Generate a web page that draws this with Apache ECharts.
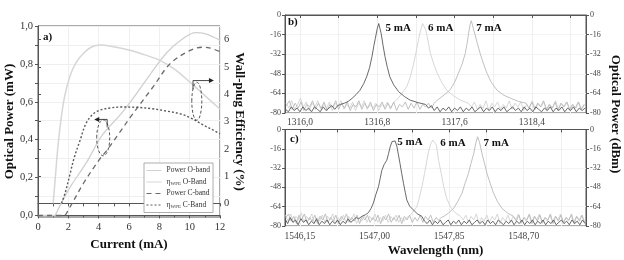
<!DOCTYPE html>
<html>
<head>
<meta charset="utf-8">
<script src="https://cdn.jsdelivr.net/npm/echarts@6.0.0/dist/echarts.min.js"></script>
<style>
html, body { margin: 0; padding: 0; background: #fff; }
#main { width: 624px; height: 260px; }
</style>
</head>
<body>
<div id="main"></div>
<script>
// panel a) current (mA) vs power (mW) / wall-plug efficiency (%)
var powerO = [[0,0],[1.1,0],[1.2,0.012],[1.7,0.09],[2.2,0.16],[3.2,0.28],[4.2,0.42],[5.4,0.53],[6.1,0.6],[7.4,0.745],[8.5,0.86],[9.5,0.93],[10.4,0.965],[11,0.96],[12,0.925]];
var etaO = [[1.0,0],[1.15,1.0],[1.3,2.0],[1.5,3.0],[1.75,3.9],[2.1,4.65],[2.5,5.15],[3.0,5.5],[3.5,5.72],[4.1,5.8],[4.8,5.76],[6,5.62],[7,5.45],[8,5.25],[9,4.92],[10,4.45],[11,3.95],[12,3.45]];
var powerC = [[0,0],[1.7,0],[2.0,0.03],[3.0,0.17],[4.0,0.29],[4.5,0.34],[5.4,0.44],[6.1,0.52],[7.6,0.68],[8.7,0.8],[10.0,0.87],[10.9,0.888],[11.3,0.885],[12,0.865]];
var etaC = [[1.55,0],[1.8,0.4],[2.1,1.05],[2.4,1.7],[2.8,2.35],[3.1,2.85],[3.5,3.2],[4.0,3.4],[4.8,3.5],[5.5,3.53],[6.5,3.52],[7.5,3.47],[8.5,3.38],[9.4,3.28],[10.1,3.12],[10.8,2.9],[11.5,2.7],[12,2.55]];

// panel b) O-band spectra, wavelength (nm) / dBm
var b5 = [[1315.85,-77],[1315.88,-79],[1315.91,-75],[1315.94,-78],[1315.97,-76],[1316.00,-79],[1316.03,-75],[1316.06,-78],[1316.09,-76],[1316.12,-79],[1316.15,-75],[1316.18,-77],[1316.21,-79],[1316.24,-75],[1316.27,-78],[1316.30,-76],[1316.33,-74],[1316.36,-77],[1316.39,-74],[1316.42,-73],
  [1316.46,-72],[1316.50,-70.5],[1316.54,-68],[1316.58,-65],[1316.62,-61.5],[1316.66,-56],[1316.69,-50.5],[1316.72,-43],[1316.745,-34],[1316.765,-25],[1316.78,-19],[1316.80,-11],[1316.815,-7],[1316.825,-8],[1316.84,-15],[1316.86,-25],[1316.88,-34],[1316.905,-43],[1316.93,-50.5],[1316.97,-57],[1317.02,-62.5],[1317.08,-66.5],[1317.14,-69.5],[1317.22,-71.5],[1317.30,-73],
  [1317.33,-76],[1317.36,-74],[1317.39,-78],[1317.42,-75],[1317.45,-79],[1317.48,-76],[1317.51,-78],[1317.54,-75],[1317.57,-79],[1317.60,-76],[1317.63,-78],[1317.66,-75],[1317.69,-79],[1317.72,-76],[1317.75,-78],[1317.78,-75],[1317.81,-79],[1317.84,-77],[1317.87,-75],[1317.90,-79],[1317.93,-76],[1317.96,-78],[1317.99,-75],[1318.02,-79],[1318.05,-76],[1318.08,-78],[1318.11,-75],[1318.14,-79],[1318.17,-77],[1318.20,-75],[1318.23,-78],[1318.26,-76],[1318.29,-79],[1318.32,-75],[1318.35,-78],[1318.38,-76],[1318.41,-79],[1318.44,-75],[1318.47,-77],[1318.50,-79],[1318.53,-76],[1318.56,-78],[1318.59,-75],[1318.62,-79],[1318.65,-76],[1318.68,-78],[1318.71,-75],[1318.74,-79],[1318.77,-76],[1318.80,-78],[1318.83,-75],[1318.86,-79],[1318.89,-76],[1318.92,-78],[1318.95,-76]];
var b6 = [[1315.855,-72],[1315.885,-76],[1315.915,-70],[1315.945,-77],[1315.975,-73],[1316.005,-68],[1316.035,-75],[1316.065,-71],[1316.095,-78],[1316.125,-72],[1316.155,-75],[1316.185,-70],[1316.215,-77],[1316.245,-73],[1316.275,-76],[1316.305,-71],[1316.335,-78],[1316.365,-72],[1316.395,-75],[1316.425,-70],[1316.455,-77],[1316.485,-73],[1316.515,-76],[1316.545,-71],[1316.575,-78],[1316.605,-72],[1316.635,-75],[1316.665,-70],[1316.695,-77],[1316.725,-73],[1316.755,-76],[1316.785,-72],[1316.815,-78],[1316.845,-73],[1316.875,-75],[1316.905,-71],[1316.935,-77],[1316.965,-72],
  [1317.00,-69.5],[1317.05,-64.5],[1317.105,-58.5],[1317.14,-51],[1317.17,-42],[1317.20,-31],[1317.226,-20.5],[1317.25,-12],[1317.27,-7],[1317.285,-7.5],[1317.30,-12],[1317.31,-15],[1317.33,-23],[1317.35,-31.5],[1317.385,-40],[1317.42,-47.5],[1317.47,-55.5],[1317.52,-61.5],[1317.59,-66],[1317.66,-69.5],[1317.74,-72],
  [1317.775,-75],[1317.805,-71],[1317.835,-77],[1317.865,-73],[1317.895,-76],[1317.925,-70],[1317.955,-78],[1317.985,-72],[1318.015,-75],[1318.045,-71],[1318.075,-77],[1318.105,-73],[1318.135,-76],[1318.165,-70],[1318.195,-77],[1318.225,-72],[1318.255,-75],[1318.285,-71],[1318.315,-78],[1318.345,-73],[1318.375,-76],[1318.405,-70],[1318.435,-77],[1318.465,-72],[1318.495,-75],[1318.525,-71],[1318.555,-78],[1318.585,-73],[1318.615,-76],[1318.645,-70],[1318.675,-77],[1318.705,-72],[1318.735,-75],[1318.765,-71],[1318.795,-78],[1318.825,-73],[1318.855,-76],[1318.885,-71],[1318.915,-77],[1318.945,-73]];
var b7 = [[1315.86,-74],[1315.89,-70],[1315.92,-77],[1315.95,-72],[1315.98,-76],[1316.01,-71],[1316.04,-78],[1316.07,-73],[1316.10,-75],[1316.13,-70],[1316.16,-77],[1316.19,-72],[1316.22,-76],[1316.25,-71],[1316.28,-78],[1316.31,-73],[1316.34,-75],[1316.37,-70],[1316.40,-77],[1316.43,-72],[1316.46,-76],[1316.49,-71],[1316.52,-78],[1316.55,-73],[1316.58,-75],[1316.61,-70],[1316.64,-77],[1316.67,-72],[1316.70,-76],[1316.73,-71],[1316.76,-78],[1316.79,-73],[1316.82,-75],[1316.85,-71],[1316.88,-77],[1316.91,-72],[1316.94,-76],[1316.97,-71],[1317.00,-78],[1317.03,-73],[1317.06,-75],[1317.09,-71],[1317.12,-77],[1317.15,-72],[1317.18,-76],[1317.21,-71],[1317.24,-77],[1317.27,-73],[1317.30,-75],[1317.33,-72],[1317.36,-76],[1317.39,-72],
  [1317.42,-69.5],[1317.48,-66],[1317.55,-61.5],[1317.60,-55],[1317.64,-47.5],[1317.68,-39.5],[1317.71,-31.5],[1317.73,-23],[1317.745,-15],[1317.76,-8],[1317.772,-4.7],[1317.785,-8],[1317.80,-13],[1317.81,-15.5],[1317.835,-23],[1317.865,-31.5],[1317.90,-40],[1317.935,-47.5],[1317.98,-55],[1318.04,-61.5],[1318.11,-65.5],[1318.18,-68],[1318.26,-70.5],[1318.34,-72],
  [1318.37,-76],[1318.40,-71],[1318.43,-77],[1318.46,-72],[1318.49,-75],[1318.52,-70],[1318.55,-77],[1318.58,-73],[1318.61,-76],[1318.64,-71],[1318.67,-78],[1318.70,-72],[1318.73,-75],[1318.76,-71],[1318.79,-77],[1318.82,-73],[1318.85,-76],[1318.88,-71],[1318.91,-77],[1318.94,-73]];

// panel c) C-band spectra
var c5 = [[1545.98,-74],[1546.01,-78],[1546.04,-73],[1546.07,-77],[1546.10,-75],[1546.13,-79],[1546.16,-74],[1546.19,-77],[1546.22,-75],[1546.25,-79],[1546.28,-76],[1546.31,-78],[1546.34,-74],[1546.37,-79],[1546.40,-76],[1546.43,-78],[1546.46,-75],[1546.49,-79],[1546.52,-76],[1546.55,-78],[1546.58,-75],[1546.61,-79],[1546.64,-76],[1546.67,-78],[1546.70,-74],[1546.73,-77],[1546.76,-75],[1546.79,-73],[1546.82,-74],
  [1546.855,-72],[1546.90,-70.5],[1546.93,-69],[1546.96,-65.5],[1546.987,-61],[1547.015,-54],[1547.045,-47.5],[1547.065,-40.5],[1547.083,-34],[1547.11,-29],[1547.14,-25.5],[1547.16,-20],[1547.18,-14],[1547.20,-10],[1547.215,-9],[1547.235,-9.5],[1547.255,-14],[1547.27,-20],[1547.29,-28],[1547.31,-36.5],[1547.33,-44.5],[1547.35,-52],[1547.368,-58.5],[1547.40,-63.5],[1547.44,-66.5],[1547.49,-70],[1547.54,-72],
  [1547.57,-76],[1547.60,-78],[1547.63,-75],[1547.66,-79],[1547.69,-76],[1547.72,-78],[1547.75,-75],[1547.78,-79],[1547.81,-77],[1547.84,-75],[1547.87,-79],[1547.90,-76],[1547.93,-78],[1547.96,-75],[1547.99,-79],[1548.02,-76],[1548.05,-78],[1548.08,-75],[1548.11,-79],[1548.14,-77],[1548.17,-75],[1548.20,-78],[1548.23,-76],[1548.26,-79],[1548.29,-75],[1548.32,-78],[1548.35,-76],[1548.38,-79],[1548.41,-75],[1548.44,-77],[1548.47,-79],[1548.50,-76],[1548.53,-78],[1548.56,-75],[1548.59,-79],[1548.62,-76],[1548.65,-78],[1548.68,-75],[1548.71,-79],[1548.74,-76],[1548.77,-78],[1548.80,-75],[1548.83,-79],[1548.86,-76],[1548.89,-78],[1548.92,-75],[1548.95,-79],[1548.98,-76],[1549.01,-78],[1549.04,-75],[1549.07,-79],[1549.10,-77],[1549.13,-75],[1549.16,-78],[1549.19,-76],[1549.22,-79],[1549.25,-75],[1549.28,-78],[1549.31,-76],[1549.34,-79],[1549.37,-75],[1549.40,-78]];
var c6 = [[1545.985,-71],[1546.015,-76],[1546.045,-70],[1546.075,-77],[1546.105,-72],[1546.135,-75],[1546.165,-69],[1546.195,-77],[1546.225,-72],[1546.255,-75],[1546.285,-70],[1546.315,-78],[1546.345,-73],[1546.375,-76],[1546.405,-71],[1546.435,-77],[1546.465,-72],[1546.495,-75],[1546.525,-70],[1546.555,-78],[1546.585,-73],[1546.615,-76],[1546.645,-71],[1546.675,-77],[1546.705,-72],[1546.735,-75],[1546.765,-70],[1546.795,-78],[1546.825,-73],[1546.855,-76],[1546.885,-71],[1546.915,-77],[1546.945,-72],[1546.975,-75],[1547.005,-70],[1547.035,-77],[1547.065,-73],[1547.095,-76],[1547.125,-71],[1547.155,-77],[1547.185,-72],[1547.215,-75],[1547.245,-71],[1547.275,-77],[1547.305,-73],[1547.335,-76],[1547.365,-73],
  [1547.39,-72],[1547.44,-68.5],[1547.483,-64],[1547.51,-57],[1547.54,-47.5],[1547.57,-36.5],[1547.597,-25.5],[1547.62,-17],[1547.645,-11],[1547.665,-8.7],[1547.685,-9],[1547.705,-13],[1547.73,-25.5],[1547.76,-36.5],[1547.79,-47.5],[1547.82,-56.5],[1547.863,-64],[1547.92,-69],[1547.98,-72],
  [1548.01,-75],[1548.04,-71],[1548.07,-77],[1548.10,-72],[1548.13,-75],[1548.16,-70],[1548.19,-78],[1548.22,-73],[1548.25,-76],[1548.28,-71],[1548.31,-77],[1548.34,-72],[1548.37,-75],[1548.40,-70],[1548.43,-78],[1548.46,-73],[1548.49,-76],[1548.52,-71],[1548.55,-77],[1548.58,-72],[1548.61,-75],[1548.64,-70],[1548.67,-78],[1548.70,-73],[1548.73,-76],[1548.76,-71],[1548.79,-77],[1548.82,-72],[1548.85,-75],[1548.88,-70],[1548.91,-78],[1548.94,-73],[1548.97,-76],[1549.00,-71],[1549.03,-77],[1549.06,-72],[1549.09,-75],[1549.12,-70],[1549.15,-78],[1549.18,-73],[1549.21,-76],[1549.24,-71],[1549.27,-77],[1549.30,-72],[1549.33,-75],[1549.36,-71],[1549.39,-77]];
var c7 = [[1545.99,-73],[1546.02,-70],[1546.05,-76],[1546.08,-72],[1546.11,-78],[1546.14,-71],[1546.17,-75],[1546.20,-70],[1546.23,-77],[1546.26,-73],[1546.29,-76],[1546.32,-71],[1546.35,-78],[1546.38,-72],[1546.41,-75],[1546.44,-70],[1546.47,-77],[1546.50,-73],[1546.53,-76],[1546.56,-71],[1546.59,-78],[1546.62,-72],[1546.65,-75],[1546.68,-70],[1546.71,-77],[1546.74,-73],[1546.77,-76],[1546.80,-71],[1546.83,-78],[1546.86,-72],[1546.89,-75],[1546.92,-71],[1546.95,-77],[1546.98,-73],[1547.01,-76],[1547.04,-71],[1547.07,-78],[1547.10,-72],[1547.13,-75],[1547.16,-70],[1547.19,-77],[1547.22,-73],[1547.25,-76],[1547.28,-71],[1547.31,-78],[1547.34,-72],[1547.37,-75],[1547.40,-71],[1547.43,-77],[1547.46,-73],[1547.49,-76],[1547.52,-71],[1547.55,-77],[1547.58,-72],[1547.61,-75],[1547.64,-71],[1547.67,-77],[1547.70,-73],[1547.73,-75],[1547.76,-73],
  [1547.79,-72],[1547.84,-69.5],[1547.90,-65.5],[1547.95,-59.5],[1547.996,-53],[1548.03,-45],[1548.07,-36.5],[1548.10,-28],[1548.13,-20],[1548.155,-11],[1548.175,-6],[1548.195,-10],[1548.225,-20],[1548.255,-28.5],[1548.282,-36.5],[1548.32,-45],[1548.357,-53],[1548.40,-59.5],[1548.453,-65.5],[1548.52,-69.5],[1548.585,-72],
  [1548.615,-76],[1548.645,-71],[1548.675,-77],[1548.705,-73],[1548.735,-75],[1548.765,-70],[1548.795,-78],[1548.825,-72],[1548.855,-76],[1548.885,-71],[1548.915,-77],[1548.945,-73],[1548.975,-75],[1549.005,-70],[1549.035,-78],[1549.065,-72],[1549.095,-76],[1549.125,-71],[1549.155,-77],[1549.185,-73],[1549.215,-75],[1549.245,-70],[1549.275,-78],[1549.305,-72],[1549.335,-76],[1549.365,-71],[1549.395,-77]];

// tick labels
var ticksA_left = [0, 0.2, 0.4, 0.6, 0.8, 1.0];
var ticksA_right = [0, 1, 2, 3, 4, 5, 6];
var ticksB = [1316.0, 1316.8, 1317.6, 1318.4];
var ticksC = [1546.15, 1547.00, 1547.85, 1548.70];

// annotations (data coords of panel a / spectra)
var ellipses = [{c: [4.3, 0.41], rx: 6.5, ry: 18}, {c: [10.47, 0.603], rx: 5, ry: 19}];
var arrows = [[[4.56, 0.465], [4.56, 0.507], [3.84, 0.507]], [[10.22, 0.667], [10.22, 0.712], [11.47, 0.712]]];
var peakLabelsB = [['5 mA', 1316.885, -10.6], ['6 mA', 1317.326, -10.6], ['7 mA', 1317.824, -10.6]];
var peakLabelsC = [['5 mA', 1547.26, -10.9], ['6 mA', 1547.749, -11.3], ['7 mA', 1548.243, -11.3]];

var F = 'Liberation Serif';
var AX = '#555';
var nameStyle = {fontFamily: F, fontSize: 13, fontWeight: 'bold', color: '#111'};
function comma(d) { return function (v) { return Number(v).toFixed(d).replace('.', ','); }; }
function steps(a, b, s) { var r = []; for (var v = a; v <= b + 1e-9; v += s) r.push(+v.toFixed(4)); return r; }

var chart = echarts.init(document.getElementById('main'));

function specX(gi, min, max, labels, ticks, dec, margin) {
  return {
    type: 'value', gridIndex: gi, min: min, max: max,
    axisLine: {lineStyle: {color: AX}},
    axisTick: {customValues: ticks, length: 3, lineStyle: {color: AX}},
    axisLabel: {customValues: labels, formatter: comma(dec), fontFamily: F, fontSize: 9.5, color: '#444', margin: margin},
    splitLine: {show: true, lineStyle: {color: '#efefef'}}
  };
}
function specY(gi, pos) {
  return {
    type: 'value', gridIndex: gi, position: pos, min: -80, max: 0, interval: 16,
    axisLine: {show: true, lineStyle: {color: AX}},
    axisTick: {show: true, length: 3, lineStyle: {color: AX}},
    axisLabel: {fontFamily: F, fontSize: 8, color: '#444', margin: 4},
    splitLine: {show: pos === 'left', lineStyle: {color: '#f3f3f3'}}
  };
}
function spec(name, data, xi, yi, color, z) {
  return {name: name, type: 'line', data: data, xAxisIndex: xi, yAxisIndex: yi, showSymbol: false, symbol: 'none',
    lineStyle: {color: color, width: 0.9}, itemStyle: {color: color}, z: z, silent: true};
}
function curve(name, data, yi, color, width, type) {
  return {name: name, type: 'line', data: data, xAxisIndex: 0, yAxisIndex: yi, symbol: 'none', smooth: 0.35,
    lineStyle: {color: color, width: width, type: type || 'solid'}, itemStyle: {color: color}};
}

var xC = specX(2, 1545.98, 1549.41, ticksC, steps(1546.15, 1549.2, 0.425), 2, 5.5);
xC.name = 'Wavelength (nm)';
xC.nameLocation = 'middle';
xC.nameGap = 18;
xC.nameTextStyle = nameStyle;

chart.setOption({
  animation: false,
  grid: [
    {left: 38, top: 26, width: 182, height: 191, show: true, borderColor: AX, borderWidth: 1},
    {left: 285, top: 15, width: 301, height: 98, show: true, borderColor: AX, borderWidth: 1},
    {left: 285, top: 129.5, width: 301, height: 96.5, show: true, borderColor: AX, borderWidth: 1}
  ],
  legend: {
    left: 144, top: 163, orient: 'vertical', itemGap: 2.5, itemWidth: 15, itemHeight: 8,
    padding: [3, 3, 3, 2], backgroundColor: '#fff', borderColor: '#999', borderWidth: 0.8,
    itemStyle: {opacity: 0},
    lineStyle: {width: 1},
    data: ['Power O-band', 'ηWPE O-Band', 'Power C-band', 'ηWPE C-Band'],
    textStyle: {fontFamily: F, fontSize: 7.5, color: '#333', lineHeight: 9,
      rich: {e: {fontFamily: F, fontSize: 7.5, color: '#333'}, s: {fontFamily: F, fontSize: 5, color: '#333', verticalAlign: 'bottom', padding: [3, 0, 0, 0]}, t: {fontFamily: F, fontSize: 7.5, color: '#333'}}},
    formatter: function (n) { return n.charAt(0) === 'η' ? '{e|η}{s|WPE}{t|' + n.slice(4) + '}' : n; }
  },
  xAxis: [
    {type: 'value', gridIndex: 0, min: 0, max: 12, interval: 2,
      axisLine: {lineStyle: {color: AX}},
      axisTick: {length: 3, lineStyle: {color: AX}},
      minorTick: {show: true, splitNumber: 2, length: 2, lineStyle: {color: AX}},
      axisLabel: {fontFamily: F, fontSize: 10.5, color: '#333', margin: 5},
      splitLine: {show: true, lineStyle: {color: '#efefef'}},
      name: 'Current (mA)', nameLocation: 'middle', nameGap: 17, nameTextStyle: nameStyle},
    {type: 'value', gridIndex: 0, position: 'top', min: 0, max: 12, interval: 1,
      axisLine: {lineStyle: {color: AX}},
      axisTick: {inside: true, length: 3, lineStyle: {color: AX}},
      axisLabel: {show: false}, splitLine: {show: false}},
    specX(1, 1315.845, 1318.96, ticksB, steps(1316.0, 1318.8, 0.4), 1, 4.5),
    xC
  ],
  yAxis: [
    {type: 'value', gridIndex: 0, position: 'left', min: -0.008, max: 1.0,
      axisLine: {show: true, lineStyle: {color: AX}},
      axisTick: {show: true, customValues: steps(0, 1.0, 0.1), length: 3, lineStyle: {color: AX}},
      axisLabel: {customValues: ticksA_left, formatter: comma(1), fontFamily: F, fontSize: 10.5, color: '#333', margin: 5},
      splitLine: {show: true, lineStyle: {color: '#efefef'}},
      name: 'Optical Power (mW)', nameLocation: 'middle', nameGap: 21, nameTextStyle: nameStyle},
    {type: 'value', gridIndex: 0, position: 'right', min: -0.5, max: 6.5,
      axisLine: {show: true, lineStyle: {color: AX}},
      axisTick: {show: true, customValues: ticksA_right, length: 3, lineStyle: {color: AX}},
      axisLabel: {customValues: ticksA_right, fontFamily: F, fontSize: 10.5, color: '#333', margin: 4},
      splitLine: {show: false},
      name: 'Wall-plug Efficiency (%)', nameLocation: 'middle', nameRotate: -90, nameGap: 13, nameTextStyle: nameStyle},
    specY(1, 'left'), specY(1, 'right'),
    specY(2, 'left'), specY(2, 'right')
  ],
  series: [
    curve('Power O-band', powerO, 0, '#d0d0d0', 1.3),
    curve('ηWPE O-Band', etaO, 1, '#d6d6d6', 1.5),
    curve('Power C-band', powerC, 0, '#6a6a6a', 1.3, [5, 4]),
    curve('ηWPE C-Band', etaC, 1, '#5a5a5a', 1.4, [2, 2]),
    spec('b6', b6, 2, 2, '#d3d3d3', 2), spec('b7', b7, 2, 2, '#b9b9b9', 3), spec('b5', b5, 2, 2, '#595959', 4),
    spec('c6', c6, 3, 4, '#d3d3d3', 2), spec('c7', c7, 3, 4, '#b9b9b9', 3), spec('c5', c5, 3, 4, '#595959', 4)
  ]
});

// annotations placed from data coordinates
function px(xi, yi, p) { return chart.convertToPixel({xAxisIndex: xi, yAxisIndex: yi}, p); }
var g = [];
ellipses.forEach(function (e) {
  var c = px(0, 0, e.c);
  g.push({type: 'ellipse', shape: {cx: c[0], cy: c[1], rx: e.rx, ry: e.ry},
    style: {fill: 'none', stroke: '#555', lineWidth: 1, lineDash: [3, 2]}, z: 100});
});
arrows.forEach(function (a) {
  var pts = a.map(function (p) { return px(0, 0, p); });
  g.push({type: 'polyline', shape: {points: pts}, style: {stroke: '#333', lineWidth: 0.9, fill: 'none'}, z: 100});
  var e = pts[pts.length - 1], s = pts[pts.length - 2];
  var dx = e[0] - s[0], dy = e[1] - s[1], L = Math.sqrt(dx * dx + dy * dy) || 1;
  dx /= L; dy /= L;
  g.push({type: 'polygon', shape: {points: [[e[0] + dx * 2, e[1] + dy * 2], [e[0] - dx * 3 - dy * 2.5, e[1] - dy * 3 + dx * 2.5], [e[0] - dx * 3 + dy * 2.5, e[1] - dy * 3 - dx * 2.5]]},
    style: {fill: '#222'}, z: 100});
});
function label(text, x, y, size) {
  return {type: 'text', x: x, y: y, z: 100,
    style: {text: text, font: 'bold ' + size + 'px "Liberation Serif"', fill: '#111', align: 'left', verticalAlign: 'middle', textAlign: 'left', textVerticalAlign: 'middle'}};
}
peakLabelsB.forEach(function (l) { var p = px(2, 2, [l[1], l[2]]); g.push(label(l[0], p[0], p[1], 11)); });
peakLabelsC.forEach(function (l) { var p = px(3, 4, [l[1], l[2]]); g.push(label(l[0], p[0], p[1], 11)); });
g.push(label('a)', 43, 37, 11), label('b)', 288, 22, 11), label('c)', 290, 139, 11));
g.push({type: 'text', x: 615, y: 114, rotation: -Math.PI / 2, z: 100,
  style: {text: 'Optical Power (dBm)', font: 'bold 13px "Liberation Serif"', fill: '#111', align: 'center', verticalAlign: 'middle', textAlign: 'center', textVerticalAlign: 'middle'}});
chart.setOption({graphic: g});
</script>
</body>
</html>
